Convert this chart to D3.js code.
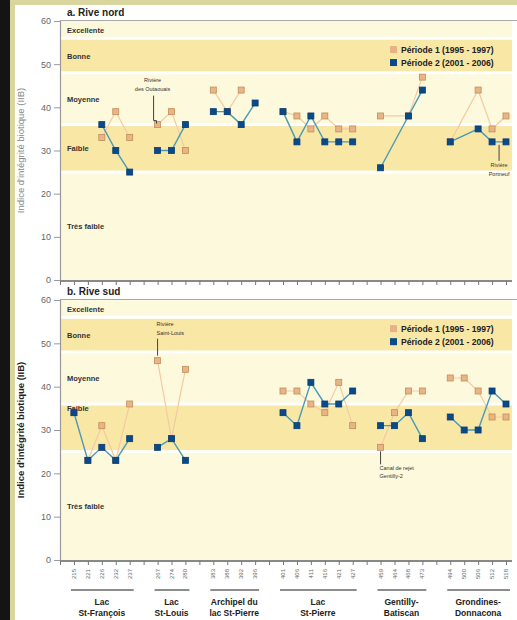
<!DOCTYPE html>
<html><head><meta charset="utf-8">
<script src="https://cdn.jsdelivr.net/npm/d3@7"></script>
<style>body{margin:0;background:#111;}svg{display:block;}</style>
</head><body>
<script>
// ---------- DATA ----------
const stations = ["215","221","226","232","237","267","274","280","383","388","392","396",
  "401","406","411","416","421","427","459","464","468","473","494","500","506","512","518"];
const groupNames = [["Lac","St-François"],["Lac","St-Louis"],["Archipel du","lac St-Pierre"],
  ["Lac","St-Pierre"],["Gentilly-","Batiscan"],["Grondines-","Donnacona"]];
const groupStations = [["215","221","226","232","237"],["267","274","280"],["383","388","392","396"],
  ["401","406","411","416","421","427"],["459","464","468","473"],["494","500","506","512","518"]];
const northP1 = [null,null,33,39,33, 36,39,30, 44,39,44,null, 39,38,35,38,35,35, 38,null,38,47, 32,null,44,35,38];
const northP2 = [null,null,36,30,25, 30,30,36, 39,39,36,41, 39,32,38,32,32,32, 26,null,38,44, 32,null,35,32,32];
const southP1 = [34,23,31,23,36, 46,28,44, null,null,null,null, 39,39,36,34,41,31, 26,34,39,39, 42,42,39,33,33];
const southP2 = [34,23,26,23,28, 26,28,23, null,null,null,null, 34,31,41,36,36,39, 31,31,34,28, 33,30,30,39,36];
const bandNames = ["Très faible","Faible","Moyenne","Bonne","Excellente"];
const bandLimits = [0,25,36,48,56,60];
const yTicks = [0,10,20,30,40,50,60];
const seriesNames = ["Période 1 (1995 - 1997)","Période 2 (2001 - 2006)"];
const panelTitles = ["a. Rive nord","b. Rive sud"];
const yTitle = "Indice d'intégrité biotique (IIB)";
const annotationsNorth = [{station:"267", value:36, lines:["Rivière","des Outaouais"], pos:"aboveElbow"},
                          {station:"512", value:32, lines:["Rivière","Portneuf"], pos:"below"}];
const annotationsSouth = [{station:"267", value:46, lines:["Rivière","Saint-Louis"], pos:"aboveLeft"},
                          {station:"459", value:26, lines:["Canal de rejet","Gentilly-2"], pos:"belowLeft"}];

// ---------- SETUP ----------
const W = 517, H = 620;
const svg = d3.select("body").append("svg").attr("width", W).attr("height", H)
  .style("font-family","Arial, 'Liberation Sans', Helvetica, sans-serif");
svg.append("rect").attr("x",0).attr("y",0).attr("width",W).attr("height",H).attr("fill","#d9d79f");
svg.append("rect").attr("x",0).attr("y",0).attr("width",10).attr("height",H).attr("fill","#141414");
svg.append("rect").attr("x",15).attr("y",5).attr("width",W-15).attr("height",H-5).attr("fill","#ffffff");

const slotDomain = ["_start"];
groupStations.forEach((g,i)=>{ if(i>0) slotDomain.push("_gap"+i); g.forEach(s=>slotDomain.push(s)); });
const x = d3.scalePoint().domain(slotDomain).range([60,506]).padding(0);

const tanLine = "#f3cba3", blueLine = "#4a9ab6";
const tanFill = "#e8b686", tanEdge = "#c38c58";
const blueFill = "#0a4a88", blueEdge = "#083d72";
const darkBand = "#f9e7a6", lightBand = "#fdf9dc";

function panel(top, bottom, p1, p2, title, annots, bold){
  const y = d3.scaleLinear().domain([0,60]).range([bottom, top]);
  const g = svg.append("g");
  for(let i=0;i<bandNames.length;i++){
    const lo = bandLimits[i], hi = bandLimits[i+1];
    const y0 = y(hi) + (hi<60 ? 1.5 : 0), y1 = y(lo) - (lo>0 ? 1.5 : 0);
    g.append("rect").attr("x",60).attr("y",y0).attr("width",452).attr("height",y1-y0)
      .attr("fill", i%2===1 ? darkBand : lightBand);
  }
  bandNames.forEach((n,i)=>{
    let v = (bandLimits[i]+bandLimits[i+1])/2;
    if(bold && n==="Faible") v = 35;
    g.append("text").attr("x",67).attr("y",y(v)+3).text(n)
      .attr("font-size","7.5px").attr("font-weight","bold").attr("fill","#333");
  });
  g.append("line").attr("x1",60).attr("x2",W).attr("y1",top-0.5).attr("y2",top-0.5)
    .attr("stroke","#aaa").attr("stroke-width",1.2);
  g.append("text").attr("x",67).attr("y",top-5).text(title)
    .attr("font-size","10px").attr("font-weight","bold").attr("fill","#222");
  const ya = g.append("g").attr("transform","translate(60,0)")
    .call(d3.axisLeft(y).tickValues(yTicks).tickSize(6).tickPadding(3));
  ya.select(".domain").attr("stroke","#999").attr("stroke-width",1.2);
  ya.selectAll(".tick line").attr("stroke","#999");
  ya.selectAll(".tick text").attr("fill","#666").attr("font-size","9px").attr("font-family","Arial, 'Liberation Sans', sans-serif");
  g.append("text").attr("transform",`translate(24,${(top+bottom)/2}) rotate(-90)`)
    .attr("text-anchor","middle").text(yTitle)
    .attr("font-size","9.5px").attr("font-weight", bold ? "bold" : "normal")
    .attr("fill", bold ? "#222" : "#888");
  const xa = g.append("g").attr("transform",`translate(0,${bottom+1})`)
    .call(d3.axisBottom(x).tickSize(4).tickFormat(""));
  xa.select(".domain").attr("stroke","#888").attr("stroke-width",2).attr("d",`M60,0H512`);
  xa.selectAll(".tick line").attr("stroke","#777");

  const series = [{vals:p1, line:tanLine, fill:tanFill, edge:tanEdge, w:1.2},
                  {vals:p2, line:blueLine, fill:blueFill, edge:blueEdge, w:1.4}];
  const lineGen = d3.line().x(d=>x(d.s)).y(d=>y(d.v));
  series.forEach(se=>{
    groupStations.forEach(gs=>{
      const pts = gs.map(s=>({s, v: se.vals[stations.indexOf(s)]})).filter(d=>d.v!=null);
      if(pts.length>1) g.append("path").attr("d",lineGen(pts)).attr("fill","none")
        .attr("stroke",se.line).attr("stroke-width", se.w);
    });
  });
  series.forEach(se=>{
    const pts = stations.map((s,i)=>({s, v: se.vals[i]})).filter(d=>d.v!=null);
    g.selectAll(null).data(pts).enter().append("rect")
      .attr("x",d=>x(d.s)-3).attr("y",d=>y(d.v)-3).attr("width",6).attr("height",6)
      .attr("fill",se.fill).attr("stroke",se.edge).attr("stroke-width",0.8);
  });
  seriesNames.forEach((n,i)=>{
    const ly = y(52) + (i===0 ? -6 : 7);
    g.append("rect").attr("x",390).attr("y",ly-3.5).attr("width",7).attr("height",7)
      .attr("fill", i===0 ? "#e5b387" : blueFill);
    g.append("text").attr("x",401).attr("y",ly+3.5).text(n)
      .attr("font-size","8.6px").attr("font-weight","bold").attr("fill","#222");
  });
  annots.forEach(a=>{
    const ax = x(a.station), ay = y(a.value);
    const t = g.append("g").attr("font-size","5.5px").attr("fill","#333");
    if(a.pos==="aboveElbow"){
      g.append("path").attr("d",`M${ax-4},${ay-29}V${ay-4}H${ax-1}V${ay-1}`)
        .attr("fill","none").attr("stroke","#444").attr("stroke-width",1);
      a.lines.forEach((l,i)=>t.append("text").attr("x",ax-5).attr("y",ay-43+i*9)
        .attr("text-anchor","middle").text(l));
    } else if(a.pos==="below"){
      const lx = ax + 7;
      g.append("line").attr("x1",lx).attr("x2",lx).attr("y1",ay+3).attr("y2",ay+19)
        .attr("stroke","#444").attr("stroke-width",1);
      a.lines.forEach((l,i)=>t.append("text").attr("x",lx).attr("y",ay+25+i*9)
        .attr("text-anchor","middle").text(l));
    } else if(a.pos==="aboveLeft"){
      g.append("line").attr("x1",ax).attr("x2",ax).attr("y1",ay-5).attr("y2",ay-22)
        .attr("stroke","#444").attr("stroke-width",1);
      a.lines.forEach((l,i)=>t.append("text").attr("x",ax-1).attr("y",ay-35+i*9).text(l));
    } else {
      g.append("line").attr("x1",ax).attr("x2",ax).attr("y1",ay+4).attr("y2",ay+17)
        .attr("stroke","#444").attr("stroke-width",1);
      a.lines.forEach((l,i)=>t.append("text").attr("x",ax-1).attr("y",ay+23+i*8).text(l));
    }
  });
  return y;
}

panel(21, 280, northP1, northP2, panelTitles[0], annotationsNorth, false);
panel(300, 560, southP1, southP2, panelTitles[1], annotationsSouth, true);

svg.append("g").selectAll("text").data(stations).enter().append("text")
  .attr("transform",d=>`translate(${x(d)+2},569) rotate(-90)`)
  .attr("text-anchor","end").text(d=>d)
  .attr("font-size","6px").attr("fill","#666");
groupStations.forEach((gs,i)=>{
  const x0 = x(gs[0]) - 3, x1 = x(gs[gs.length-1]) + 4, cx = (x(gs[0])+x(gs[gs.length-1]))/2;
  svg.append("line").attr("x1",x0).attr("x2",x1).attr("y1",590).attr("y2",590)
    .attr("stroke","#666").attr("stroke-width",1.5);
  groupNames[i].forEach((l,j)=>svg.append("text").attr("x",cx).attr("y",605+j*11)
    .attr("text-anchor","middle").text(l)
    .attr("font-size","8.5px").attr("font-weight","bold").attr("fill","#222"));
});
</script>
</body></html>
